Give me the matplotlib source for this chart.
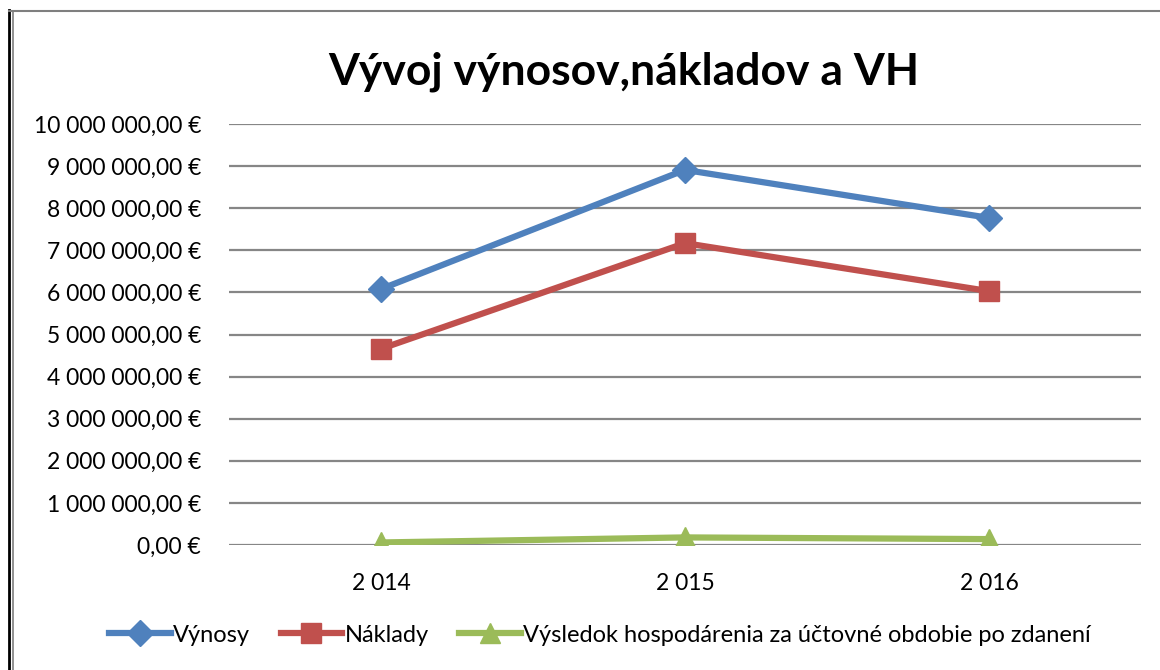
import matplotlib
matplotlib.use("Agg")
import matplotlib.pyplot as plt
from matplotlib.ticker import FuncFormatter
from matplotlib.lines import Line2D

years = ["2 014", "2 015", "2 016"]
vynosy = [6080000, 8910000, 7770000]
naklady = [4660000, 7170000, 6030000]
vh = [60000, 180000, 140000]
series_names = ["Výnosy", "Náklady", "Výsledok hospodárenia za účtovné obdobie po zdanení"]
colors = ["#4F81BD", "#C0504D", "#9BBB59"]
markers = ["D", "s", "^"]
yticks = list(range(0, 10000001, 1000000))

plt.rcParams['font.family'] = ['Lato', 'DejaVu Sans']

fig = plt.figure(figsize=(11.6, 6.7), dpi=100)
ax = fig.add_axes([229/1160, 1-545/670, 912/1160, (545-124)/670])

x = list(range(len(years)))
sizes = {"D": 13, "s": 14, "^": 15}
for vals, c, m, name in zip([vynosy, naklady, vh], colors, markers, series_names):
    ax.plot(x, vals, color=c, lw=4.5, marker=m, markersize=sizes[m], label=name,
            solid_capstyle='round')

ax.set_xlim(-0.5, 2.5)
ax.set_ylim(0, 10000000)
ax.set_yticks(yticks)
def fmt(v, pos):
    s = f"{int(round(v)):,}".replace(",", " ")
    return s + ",00 €"
ax.yaxis.set_major_formatter(FuncFormatter(fmt))
ax.set_xticks(x)
ax.set_xticklabels(years)
ax.tick_params(axis='both', length=0, labelsize=16.5, colors='black')
ax.tick_params(axis='y', pad=20)
ax.tick_params(axis='x', pad=20)
ax.grid(axis='y', color='#868686', lw=1.6)
ax.set_axisbelow(True)
for s in ax.spines.values():
    s.set_visible(False)

fig.text(624/1160, 1-72/670, "Vývoj výnosov,nákladov a VH", ha='center', va='center',
         fontsize=32, fontweight='bold')

handles = [Line2D([0], [0], color=c, lw=4.5, marker=m, markersize=sizes[m]) for c, m in zip(colors, markers)]
fig.legend(handles, series_names, loc='center', bbox_to_anchor=(600/1160, 1-635/670),
           ncol=3, frameon=False, fontsize=17, handlelength=2.6, handletextpad=0.1,
           columnspacing=1.3)

# frame
fig.add_artist(Line2D([9/1160, 9/1160], [0, 1-10/670], transform=fig.transFigure, color='black', lw=2))
fig.add_artist(Line2D([12.5/1160, 12.5/1160], [0, 1-11/670], transform=fig.transFigure, color='#7f7f7f', lw=1.2))
fig.add_artist(Line2D([9/1160, 1], [1-11/670, 1-11/670], transform=fig.transFigure, color='#7f7f7f', lw=1.5))

fig.savefig("out.png", dpi=100, facecolor='white')
